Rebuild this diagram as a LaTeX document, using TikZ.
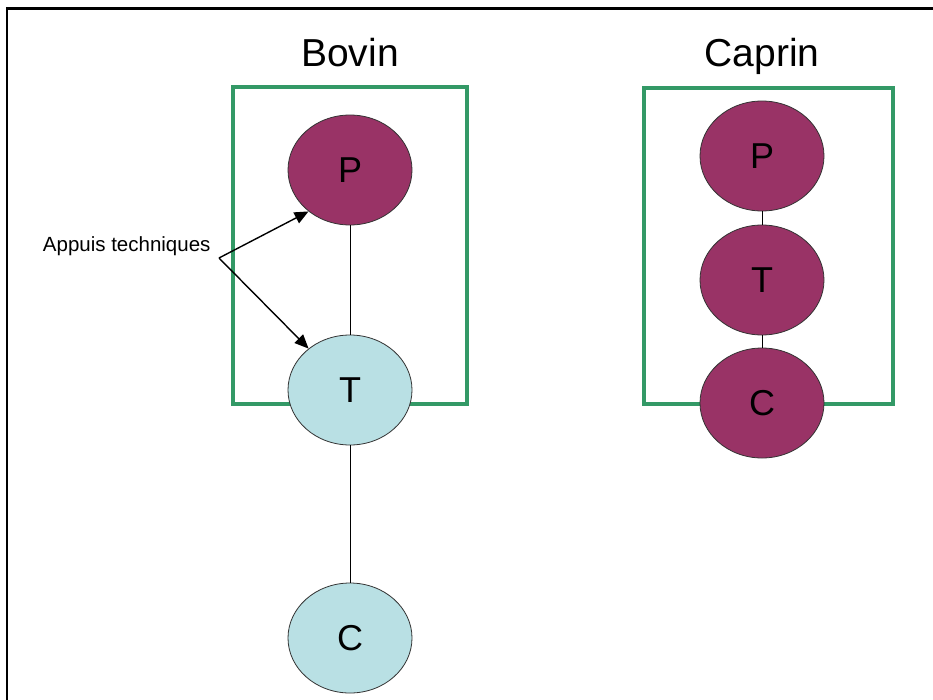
\documentclass[tikz,border=0pt]{standalone}
\usepackage{fontspec}
\setmainfont{Liberation Sans}
\usetikzlibrary{shapes.geometric,arrows.meta}
\definecolor{plum}{RGB}{153,51,102}
\definecolor{paleblue}{RGB}{185,224,228}
\definecolor{boxgreen}{RGB}{51,153,102}
\tikzset{
  node/.style={ellipse,draw=black!80,line width=0.8pt,minimum width=124pt,minimum height=110pt,inner sep=0pt,font=\fontsize{36}{40}\selectfont},
  pnode/.style={node,fill=plum},
  bnode/.style={node,fill=paleblue},
  frame/.style={draw=boxgreen,line width=3.2pt},
  title/.style={font=\fontsize{39}{44}\selectfont,anchor=base},
  link/.style={draw=black,line width=1pt},
  arr/.style={draw=black,line width=1.4pt,-{Triangle[length=14pt,width=12pt]}}
}
\begin{document}
\begin{tikzpicture}[x=1pt,y=-1pt]
\useasboundingbox (0,0) rectangle (933,699);
\fill[white] (0,0) rectangle (933,699);
% outer black border
\draw[black,line width=2.2pt] (7,704) -- (7,8.5) -- (940,8.5);
% titles
\node[title] (tb) at (350,66) {Bovin};
\node[title] (tc) at (762,66) {Caprin};
% frames
\draw[frame] (233,87) rectangle (467,404);
\draw[frame] (644,88) rectangle (893,404);
% Bovin nodes
\node[pnode] (bp) at (350,170) {P};
\node[bnode] (bt) at (350,390) {T};
\node[bnode] (bc) at (350,638) {C};
\draw[link] (bp) -- (bt);
\draw[link] (bt) -- (bc);
% Caprin nodes
\node[pnode] (cp) at (762,156) {P};
\node[pnode] (ct) at (762,280) {T};
\node[pnode] (cc) at (762,403) {C};
\draw[link] (cp) -- (ct);
\draw[link] (ct) -- (cc);
% annotation
\node[font=\fontsize{20.5}{24}\selectfont,anchor=east] (lab) at (214,246) {Appuis techniques};
\coordinate (j) at (219,258);
\draw[arr] (j) -- (bp.-135);
\draw[arr] (j) -- (bt.135);
\end{tikzpicture}
\end{document}
